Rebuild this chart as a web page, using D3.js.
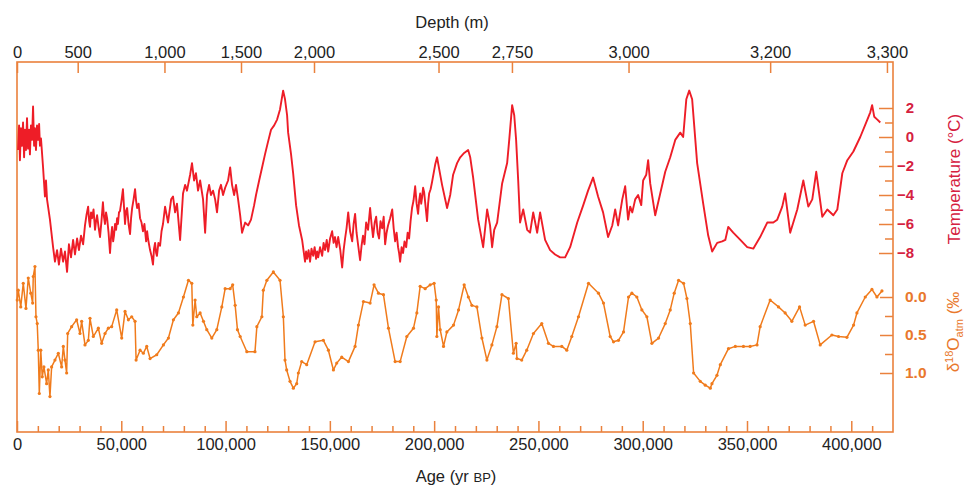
<!DOCTYPE html>
<html>
<head>
<meta charset="utf-8">
<script src="https://cdn.jsdelivr.net/npm/d3@7"></script>
<style>
  body { margin: 0; background: #fff; }
  svg { display: block; font-family: "Liberation Sans", Arial, Helvetica, sans-serif; }
</style>
</head>
<body>
<svg id="chart"></svg>
<script>
// Vostok record: temperature and d18O of atmospheric O2 against age (kyr BP)

const tempSeries = [
  [0.5,-0.9],[1.0,0.8],[1.4,-1.6],[1.9,0.6],[2.4,-0.6],[2.9,1.0],[3.4,-1.4],[3.8,0.5],[4.3,-0.9],[4.8,1.3],
  [5.3,-0.8],[5.8,0.5],[6.2,-1.2],[6.7,0.8],[7.2,-0.2],[7.7,2.1],[8.2,-0.6],[8.6,0.6],[9.1,-0.9],[9.6,0.8],
  [10.1,-0.2],[10.6,0.9],[11.0,-0.6],[11.5,-0.1],[12.5,-2.1],[12.9,-3.0],[13.4,-4.1],[13.9,-3.0],[14.4,-4.3],[15.8,-5.7],
  [17.3,-7.6],[18.2,-8.6],[19.2,-7.8],[20.1,-8.8],[21.1,-7.7],[22.1,-8.6],[23.0,-7.9],[24.0,-9.3],[24.9,-7.4],[25.9,-8.3],
  [26.9,-7.1],[27.8,-8.1],[28.8,-7.0],[29.7,-7.8],[30.7,-6.8],[31.7,-7.4],
  [32.6,-6.1],[33.3,-5.4],[34.1,-4.8],[34.6,-5.8],[35.0,-6.2],[35.5,-5.2],[36.0,-5.6],[36.7,-5.0],[37.4,-6.4],[37.9,-5.8],
  [38.4,-5.4],[39.1,-6.2],[39.8,-6.9],[40.5,-5.8],[41.2,-4.5],[41.7,-5.5],[42.2,-6.0],[42.7,-5.2],[43.2,-5.6],[43.9,-6.6],
  [44.6,-8.0],[45.1,-6.9],[45.6,-6.2],[46.1,-7.2],[46.5,-6.8],[47.0,-6.0],[47.5,-6.4],[48.0,-5.6],[48.4,-6.0],[48.9,-5.2],
  [49.4,-5.1],[50.1,-4.4],[50.8,-3.6],[51.3,-4.8],[51.8,-6.0],[52.3,-5.1],[52.8,-4.9],[53.5,-6.0],[54.2,-6.7],[54.7,-5.6],
  [55.2,-4.9],[55.9,-4.3],[56.6,-3.6],[57.1,-4.4],[57.6,-4.9],[58.3,-4.6],[59.0,-5.6],[59.7,-5.9],[60.4,-6.5],[61.1,-6.0],
  [61.9,-7.2],[62.4,-6.5],[62.8,-7.0],[63.3,-7.4],[63.8,-7.8],[64.5,-8.2],[65.2,-8.8],[65.7,-7.7],[66.2,-7.3],[66.7,-8.0],
  [67.1,-8.2],[67.8,-7.3],[68.6,-7.5],[69.3,-6.5],[70.0,-6.0],[71.0,-4.8],
  [72.4,-5.9],[73.9,-4.3],[74.8,-4.1],[75.8,-5.2],[76.7,-4.6],[78.2,-7.1],[79.6,-3.9],[80.6,-3.3],[81.5,-3.7],[83.0,-2.6],
  [83.9,-1.8],[84.9,-3.0],[85.8,-2.5],[86.8,-3.7],[87.8,-3.0],[89.2,-4.3],[90.2,-6.6],[91.1,-4.0],[92.1,-3.3],[93.0,-4.0],
  [94.0,-3.7],[95.0,-4.3],[95.9,-5.2],[96.9,-3.7],[97.8,-3.3],[98.8,-4.0],[99.8,-3.5],[101.2,-3.0],[102.2,-2.1],[103.1,-3.3],
  [104.1,-4.0],[105.0,-3.3],[106.0,-4.3],[107.0,-5.4],[107.9,-6.6],[109.4,-5.9],[110.8,-6.1],[112.2,-5.7],[113.7,-4.7],[114.6,-4.0],
  [116.1,-3.0],[117.5,-2.1],[118.9,-1.2],[120.4,-0.3],[121.8,0.5],[123.3,0.8],[124.7,1.2],[126.1,1.9],[127.6,3.2],[128.5,2.6],
  [129.5,1.5],[130.0,0.3],[131.4,-1.2],[132.4,-2.5],[133.8,-4.7],[135.2,-6.1],[136.7,-7.1],
  [138.1,-8.6],[138.6,-7.9],[139.1,-8.4],[139.8,-7.8],[140.5,-8.6],[141.2,-7.7],[142.0,-8.2],[142.7,-7.6],[143.4,-8.4],[143.9,-7.9],
  [144.4,-8.3],[145.3,-7.6],[146.3,-8.2],[147.0,-7.3],[147.7,-7.8],[148.5,-7.1],[149.2,-7.9],[150.1,-7.0],[151.1,-6.5],[151.8,-7.3],
  [152.5,-6.9],[153.2,-7.6],[154.0,-6.9],[155.0,-7.8],[155.9,-9.0],[156.6,-7.8],[157.3,-7.0],[158.0,-6.3],[158.8,-5.2],[159.7,-6.5],
  [160.7,-7.2],[161.4,-6.0],[162.1,-5.3],[162.8,-6.6],[163.6,-7.5],[164.5,-8.5],[165.2,-7.5],[165.9,-6.8],[166.6,-7.4],[167.4,-5.9],
  [168.3,-6.4],[169.3,-4.9],[170.0,-6.0],[170.7,-6.9],[171.5,-5.9],[172.2,-5.5],[172.9,-6.6],[173.6,-7.0],[174.3,-5.8],[175.1,-6.3],
  [175.8,-5.5],[176.5,-7.4],[177.2,-6.6],[177.9,-6.1],[178.9,-5.6],[179.9,-5.0],[180.6,-6.3],[181.3,-7.2],[182.0,-6.6],[182.7,-7.6],
  [183.2,-8.0],[183.7,-8.6],[184.4,-7.6],[185.1,-8.0],[185.8,-7.2],[186.6,-7.6],[187.3,-6.6],[188.0,-7.0],[188.7,-5.8],[189.4,-4.9],
  [190.1,-4.4],[190.9,-3.4],[191.6,-4.6],[192.3,-5.3],[192.8,-4.4],[193.3,-3.9],[193.8,-4.6],[194.2,-4.2],[194.7,-3.5],[195.2,-3.8],
  [195.9,-4.8],[196.6,-5.8],[197.1,-4.6],[197.6,-3.9],[198.3,-3.6],[199.0,-3.1],
  [200.5,-1.9],[201.4,-1.4],[202.9,-2.6],[203.8,-3.3],[206.2,-4.9],[207.7,-4.0],[209.1,-2.6],[211.0,-1.8],[212.5,-1.4],
  [214.4,-1.1],[216.3,-0.9],[217.3,-1.4],[218.7,-2.8],[221.1,-5.7],[223.5,-7.6],[225.4,-5.0],[226.8,-6.1],[227.8,-7.6],[228.8,-6.4],
  [230.2,-5.9],[232.6,-3.2],[235.0,-1.8],[236.0,-0.2],[237.4,2.2],[238.4,1.5],[239.3,-0.2],[240.3,-3.0],[241.2,-5.9],[242.7,-5.0],
  [244.6,-6.4],[246.0,-6.6],[247.5,-5.2],[249.4,-6.6],[250.8,-5.2],[253.2,-7.1],[255.6,-7.8],[258.0,-8.1],[260.4,-8.3],[262.8,-8.3],
  [265.2,-7.6],[268.6,-5.9],[271.5,-4.7],[273.8,-3.7],[276.2,-2.8],[278.6,-4.1],[281.0,-5.2],[283.4,-6.9],[285.4,-6.1],[286.8,-5.0],
  [288.2,-6.1],[290.2,-4.3],[291.6,-3.4],[293.0,-5.7],[294.0,-4.8],[295.0,-5.2],[296.4,-4.3],[297.8,-4.0],[299.3,-4.7],[300.2,-3.0],
  [301.7,-2.6],[302.6,-1.6],[303.6,-3.2],[306.0,-5.4],[308.4,-3.9],[310.8,-2.4],[313.2,-1.4],[315.6,-0.2],[318.0,0.3],[319.4,0.0],
  [320.9,2.6],[322.3,3.2],[323.7,2.6],[326.1,-1.8],[329.0,-4.6],[331.4,-6.8],[333.3,-7.9],[335.7,-7.3],[338.1,-7.2],[339.6,-7.1],
  [341.0,-6.2],[343.4,-6.6],[346.8,-7.1],[350.1,-7.6],[353.0,-7.7],[356.3,-6.9],[359.7,-5.9],[362.6,-5.9],[364.5,-5.7],[366.9,-4.8],
  [368.3,-3.9],[370.7,-6.6],[374.1,-5.0],[377.0,-3.0],[379.4,-4.8],[381.3,-4.3],[383.2,-2.4],[386.1,-5.5],[388.5,-5.0],[391.4,-5.4],
  [393.3,-5.0],[395.7,-2.5],[398.1,-1.6],[401.0,-1.0],[404.3,0.0],[407.7,1.2],[409.1,1.7],[410.0,2.2],[411.0,1.4],[412.5,1.2],
  [413.9,1.0]
];

const d18Series = [
  [0.1,0.04],[0.6,-0.09],[1.8,0.13],[3.0,-0.18],[4.3,0.15],[5.4,-0.25],[6.6,-0.05],[7.5,0.08],[7.8,-0.27],[8.6,-0.40],
  [9.1,0.26],[9.7,0.35],[10.2,0.70],[10.7,1.27],[11.4,0.70],[12.1,1.05],[12.9,0.92],[14.2,1.14],[15.0,0.96],[15.8,1.31],
  [16.6,0.92],[18.2,0.83],[19.8,0.74],[21.4,0.92],[22.2,0.65],[23.0,0.83],[23.8,1.00],[24.3,0.48],[26.2,0.39],[28.6,0.30],
  [30.2,0.48],[31.0,0.32],[32.6,0.63],[34.2,0.57],[35.0,0.28],[36.6,0.52],[39.0,0.41],[40.6,0.61],[42.2,0.48],[43.8,0.41],
  [45.4,0.39],[47.8,0.17],[50.2,0.54],[51.8,0.19],[53.4,0.30],[55.0,0.26],[56.6,0.32],[57.1,0.83],[59.0,0.70],[60.6,0.74],
  [62.2,0.65],[63.8,0.81],[67.0,0.76],[70.2,0.63],[72.6,0.54],[75.0,0.30],[77.4,0.21],[79.8,0.00],[82.2,-0.22],[83.8,-0.18],
  [84.3,0.37],[85.4,0.04],[86.2,0.26],[87.8,0.21],[89.4,0.32],[91.0,0.43],[93.4,0.54],[95.8,0.43],[98.2,0.13],[99.8,-0.11],
  [102.2,-0.11],[103.4,-0.16],[104.6,0.11],[105.7,0.43],[107.0,0.52],[110.2,0.72],[114.1,0.72],[115.0,0.39],[117.4,0.26],[118.1,-0.09],
  [119.8,-0.22],[122.9,-0.33],[126.1,-0.22],[127.7,0.26],[128.5,0.83],[129.3,0.96],[130.9,1.11],[132.5,1.20],[134.1,1.14],[134.9,1.00],
  [136.5,0.85],[138.9,0.89],[142.9,0.59],[146.9,0.57],[149.3,0.70],[151.7,0.96],[153.3,0.87],[155.7,0.79],[158.9,0.85],[162.1,0.65],
  [163.7,0.37],[166.1,0.06],[169.3,0.08],[171.2,-0.16],[173.3,-0.05],[175.7,-0.03],[178.1,0.41],[181.3,0.85],[183.7,0.85],[186.9,0.52],
  [190.1,0.41],[191.7,0.21],[193.3,-0.14],[195.7,-0.11],[198.1,-0.16],[200.0,-0.18],[201.0,0.04],[201.3,0.52],[202.1,0.13],[202.9,0.43],
  [204.5,0.65],[206.1,0.46],[209.3,0.37],[211.7,0.17],[214.4,-0.16],[216.4,0.00],[218.1,0.11],[220.5,0.13],[222.9,0.54],[225.3,0.83],
  [227.7,0.63],[230.1,0.39],[232.5,-0.03],[235.6,0.02],[238.0,0.74],[239.3,0.61],[239.7,0.81],[242.0,0.83],[244.4,0.70],[247.6,0.48],
  [251.6,0.35],[254.8,0.61],[257.2,0.65],[261.2,0.65],[263.6,0.70],[266.0,0.52],[269.2,0.26],[274.0,-0.18],[278.8,-0.05],[281.2,0.08],
  [284.4,0.52],[286.0,0.59],[288.4,0.57],[290.8,0.46],[293.2,0.00],[294.8,-0.05],[297.2,0.00],[299.6,0.17],[302.0,0.26],[304.4,0.61],
  [307.6,0.54],[310.8,0.35],[313.2,0.17],[315.1,-0.05],[317.2,-0.22],[319.6,-0.18],[321.2,0.02],[322.8,0.35],[324.4,1.00],[327.6,1.11],
  [330.0,1.16],[332.4,1.20],[333.2,1.14],[335.6,1.03],[337.2,0.89],[341.1,0.68],[344.4,0.65],[348.3,0.65],[351.5,0.65],[354.8,0.63],
  [356.3,0.39],[361.1,0.04],[365.1,0.13],[368.3,0.21],[371.5,0.32],[375.2,0.13],[377.9,0.37],[381.9,0.32],[385.1,0.63],[390.7,0.50],
  [393.9,0.52],[397.9,0.53],[401.1,0.37],[402.7,0.21],[406.7,0.00],[409.9,-0.10],[412.3,0.00],[414.7,-0.08]
];

// top axis: depth labels and the age (kyr) each one sits at
const depthTicks = [0, 500, 1000, 1500, 2000, 2500, 2750, 3000, 3200, 3300];
const depthAgeKyr = [0, 29.1, 70.7, 107.4, 142.4, 202.1, 237.3, 293.2, 361.1, 417.1];

const ageMajor = d3.range(0, 400001, 50000);
const ageMinor = d3.range(10000, 420000, 10000).filter(v => v % 50000 !== 0);
const tempMajor = [-8, -6, -4, -2, 0, 2];
const tempMinor = [-7, -5, -3, -1, 1];
const d18Major = [0, 0.5, 1.0];
const d18Minor = [0.25, 0.75];

const width = 967, height = 488;
const margin = { top: 62, right: 74, bottom: 56, left: 17 };

const axisColor = '#ea813c';
const tempColor = '#ee1d27';
const tempLabelColor = '#d5213f';
const d18Color = '#f07b1c';
const d18LabelColor = '#e9782c';

const svg = d3.select('#chart').attr('width', width).attr('height', height);

const x = d3.scaleLinear().domain([0, 420000]).range([margin.left, width - margin.right]);
const yT = d3.scaleLinear().domain([-8, 2]).range([253, 108]);
const yD = d3.scaleLinear().domain([0, 1]).range([297, 373]);
const xDepth = d3.scaleLinear().domain(depthTicks).range(depthAgeKyr.map(a => x(a * 1000)));

function styleAxis(g, color) {
  g.select('.domain').remove();
  g.selectAll('.tick line').attr('stroke', color).attr('stroke-width', 1.5);
  g.selectAll('.tick text').attr('fill', color);
}

// bottom axis (age)
svg.append('g')
  .attr('transform', `translate(0,${height - margin.bottom})`)
  .call(d3.axisBottom(x).tickValues(ageMinor).tickSize(-6).tickFormat(''))
  .call(g => styleAxis(g, axisColor));

svg.append('g')
  .attr('transform', `translate(0,${height - margin.bottom})`)
  .call(d3.axisBottom(x).tickValues(ageMajor).tickSize(-11).tickPadding(6).tickFormat(d3.format(',')))
  .call(g => styleAxis(g, axisColor))
  .call(g => g.selectAll('.tick text').attr('fill', '#222').style('font-size', '16.5px'));

// top axis (depth)
svg.append('g')
  .attr('transform', `translate(0,${margin.top})`)
  .call(d3.axisTop(xDepth).tickValues(depthTicks).tickSize(-11).tickPadding(4).tickFormat(d3.format(',')))
  .call(g => styleAxis(g, axisColor))
  .call(g => g.selectAll('.tick text').attr('fill', '#222').style('font-size', '16.5px'));

const xr = width - margin.right;

// right axis: temperature
svg.append('g')
  .attr('transform', `translate(${xr},0)`)
  .call(d3.axisRight(yT).tickValues(tempMinor).tickSize(-8).tickFormat(''))
  .call(g => styleAxis(g, axisColor));

svg.append('g')
  .attr('transform', `translate(${xr},0)`)
  .call(d3.axisRight(yT).tickValues(tempMajor).tickSize(-14).tickFormat(d3.format('')))
  .call(g => styleAxis(g, axisColor))
  .call(g => g.selectAll('.tick text')
    .attr('fill', tempLabelColor)
    .attr('text-anchor', 'end')
    .attr('x', 21)
    .style('font-size', '15px')
    .style('font-weight', 'bold'));

// right axis: d18O
svg.append('g')
  .attr('transform', `translate(${xr},0)`)
  .call(d3.axisRight(yD).tickValues(d18Minor).tickSize(-8).tickFormat(''))
  .call(g => styleAxis(g, axisColor));

svg.append('g')
  .attr('transform', `translate(${xr},0)`)
  .call(d3.axisRight(yD).tickValues(d18Major).tickSize(-13).tickPadding(12).tickFormat(d3.format('.1f')))
  .call(g => styleAxis(g, axisColor))
  .call(g => g.selectAll('.tick text')
    .attr('fill', d18LabelColor)
    .style('font-size', '15.5px')
    .style('font-weight', 'bold'));

// frame
svg.append('rect')
  .attr('x', margin.left)
  .attr('y', margin.top)
  .attr('width', width - margin.left - margin.right)
  .attr('height', height - margin.top - margin.bottom)
  .attr('fill', 'none')
  .attr('stroke', axisColor)
  .attr('stroke-width', 1.6);

// series
const tempLine = d3.line().x(d => x(d[0] * 1000)).y(d => yT(d[1]));
const d18Line = d3.line().x(d => x(d[0] * 1000)).y(d => yD(d[1]));

svg.append('path')
  .datum(tempSeries)
  .attr('d', tempLine)
  .attr('fill', 'none')
  .attr('stroke', tempColor)
  .attr('stroke-width', 1.9)
  .attr('stroke-linejoin', 'round');

svg.append('path')
  .datum(d18Series)
  .attr('d', d18Line)
  .attr('fill', 'none')
  .attr('stroke', d18Color)
  .attr('stroke-width', 1.5)
  .attr('stroke-linejoin', 'round');

svg.append('g')
  .selectAll('circle')
  .data(d18Series)
  .join('circle')
  .attr('cx', d => x(d[0] * 1000))
  .attr('cy', d => yD(d[1]))
  .attr('r', 1.6)
  .attr('fill', d18Color);

// axis titles
svg.append('text')
  .attr('x', 452).attr('y', 28)
  .attr('text-anchor', 'middle')
  .attr('fill', '#222')
  .style('font-size', '16.5px')
  .text('Depth (m)');

const ageTitle = svg.append('text')
  .attr('x', 456).attr('y', 482)
  .attr('text-anchor', 'middle')
  .attr('fill', '#222')
  .style('font-size', '16.5px');
ageTitle.append('tspan').text('Age (yr ');
ageTitle.append('tspan').style('font-size', '13px').text('BP');
ageTitle.append('tspan').text(')');

svg.append('text')
  .attr('transform', 'translate(960,179) rotate(-90)')
  .attr('text-anchor', 'middle')
  .attr('fill', tempLabelColor)
  .style('font-size', '17px')
  .text('Temperature (°C)');

const d18Title = svg.append('text')
  .attr('transform', 'translate(959,332) rotate(-90)')
  .attr('text-anchor', 'middle')
  .attr('fill', d18LabelColor)
  .style('font-size', '17px');
d18Title.append('tspan').text('δ');
d18Title.append('tspan').attr('dy', -6).style('font-size', '11px').text('18');
d18Title.append('tspan').attr('dy', 6).text('O');
d18Title.append('tspan').attr('dy', 4).style('font-size', '11px').text('atm');
d18Title.append('tspan').attr('dy', -4).text(' (‰');
</script>
</body>
</html>
